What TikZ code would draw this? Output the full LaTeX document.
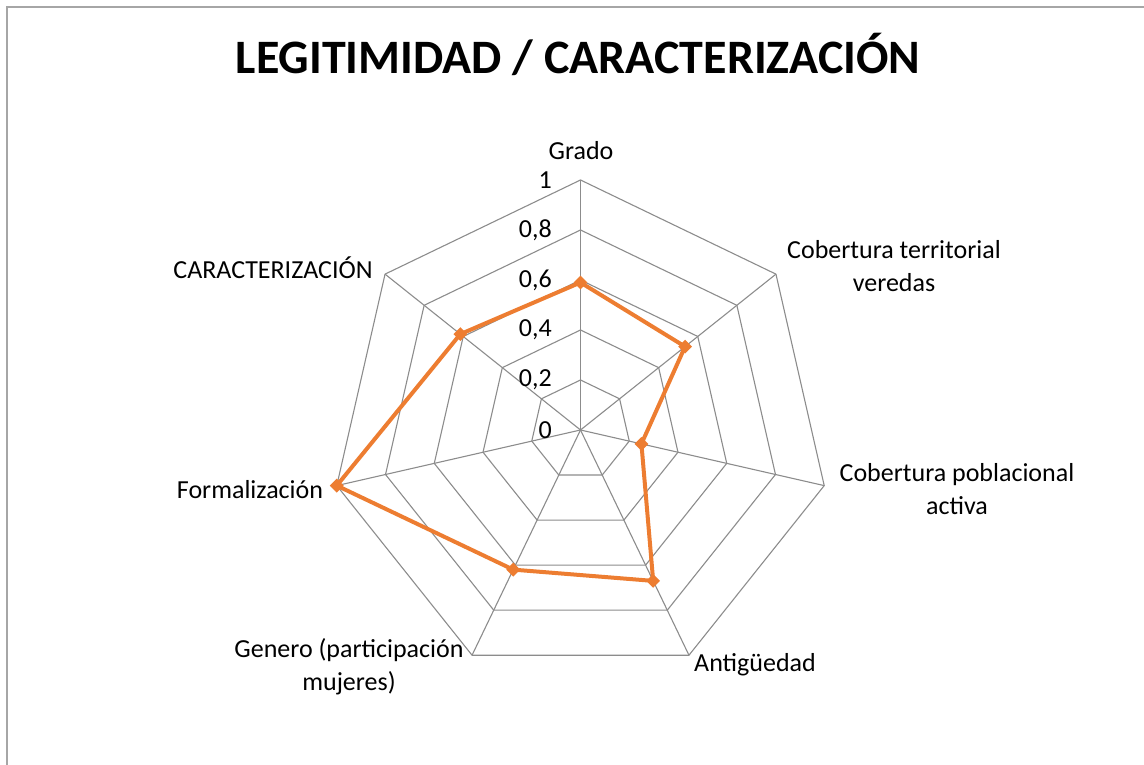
\documentclass[tikz,border=0pt]{standalone}
\usepackage{fontspec}
\setmainfont{Carlito}
\usetikzlibrary{shapes.geometric,calc}
\definecolor{gridgray}{HTML}{8C8C8C}
\definecolor{framegray}{HTML}{A6A6A6}
\definecolor{dataorange}{HTML}{ED7D31}
\begin{document}
\begin{tikzpicture}[x=1pt,y=1pt,
  frame/.style={draw=framegray, line width=1.6pt},
  gridline/.style={draw=gridgray, line width=1.1pt},
  dataline/.style={draw=dataorange, line width=4pt, line join=round},
  marker/.style={diamond, fill=dataorange, inner sep=0pt, minimum size=14pt},
  catlabel/.style={font=\fontsize{26}{33}\selectfont, align=center, inner sep=0pt},
  ticklabel/.style={font=\fontsize{26}{28}\selectfont, anchor=east, inner sep=0pt},
  titlelabel/.style={font=\fontsize{48}{56}\selectfont\bfseries, inner sep=0pt}]
\useasboundingbox (0,0) rectangle (1144,765);
\draw[frame] (7,0) -- (7,758) -- (1144,758);
\node[titlelabel] (title) at (578,711) {LEGITIMIDAD / CARACTERIZACIÓN};
\coordinate (O) at (580.5,335);
% grid rings
\foreach \k in {1,...,5}{
  \draw[gridline] ($(O)+(90:\k*50)$)
    \foreach \i in {1,...,6}{ -- ($(O)+({90-\i*360/7}:\k*50)$) } -- cycle;
}
% spokes
\foreach \i in {0,...,6}{
  \coordinate (A\i) at ($(O)+({90-\i*360/7}:250)$);
  \draw[gridline] (O) -- (A\i);
}
% tick labels
\foreach \k/\t in {0/0,1/{0,2},2/{0,4},3/{0,6},4/{0,8},5/1}{
  \node[ticklabel] (t\k) at (552,{335+\k*50}) {\t};
}
% data
\coordinate (P0) at ($(O)+(90:0.59*250)$);
\coordinate (P1) at ($(O)+({90-1*360/7}:0.535*250)$);
\coordinate (P2) at ($(O)+({90-2*360/7}:0.25*250)$);
\coordinate (P3) at ($(O)+({90-3*360/7}:0.67*250)$);
\coordinate (P4) at ($(O)+({90-4*360/7}:0.62*250)$);
\coordinate (P5) at ($(O)+({90-5*360/7}:1.0*250)$);
\coordinate (P6) at ($(O)+({90-6*360/7}:0.615*250)$);
\draw[dataline] (P0) -- (P1) -- (P2) -- (P3) -- (P4) -- (P5) -- (P6) -- cycle;
\foreach \i in {0,...,6}{ \node[marker] (M\i) at (P\i) {}; }
% category labels
\node[catlabel] (c0) at (581,614) {Grado};
\node[catlabel] (c1) at (894,499) {Cobertura territorial\\veredas};
\node[catlabel] (c2) at (957,276) {Cobertura poblacional\\activa};
\node[catlabel] (c3) at (755,100) {Antigüedad};
\node[catlabel] (c4) at (349,98) {Genero (participación\\mujeres)};
\node[catlabel] (c5) at (250,275) {Formalización};
\node[catlabel] (c6) at (273,497) {CARACTERIZACIÓN};
\end{tikzpicture}
\end{document}
